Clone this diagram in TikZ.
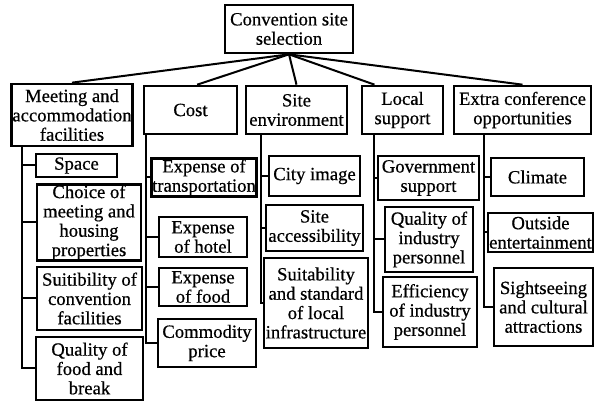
\documentclass[tikz,border=0pt]{standalone}
\usepackage{fontspec}
\setmainfont[FakeBold=0.6]{Liberation Serif}
\usepackage{tikz}

\begin{document}
\begin{tikzpicture}[x=0.75pt, y=-0.75pt,
    box/.style={draw, line width=2pt, align=center, inner sep=0.5pt,
        font=\fontsize{14}{14.5}\selectfont},
    boxsize/.style 2 args={minimum width=#1*0.75pt, minimum height=#2*0.75pt},
    link/.style={line width=1.5pt}]
    \useasboundingbox (0, 0) rectangle (596, 402);

    % top and first level
    \node[box, boxsize={128}{48}] at (289, 29) (root) {Convention site\\selection};
    \node[box, boxsize={116}{62}] at (72, 115) (meet) {Meeting and\\accommodation\\facilities};
    \node[box, boxsize={93}{48}] at (190.5, 110) (cost) {Cost};
    \node[box, boxsize={101}{48}] at (296.5, 110) (site) {Site\\environment};
    \node[box, boxsize={81}{48}] at (402.5, 110) (local) {Local\\support};
    \node[box, boxsize={137}{48}] at (522.5, 110) (extra) {Extra conference\\opportunities};
    \draw[link] (root.south) -- (meet.north);
    \draw[link] (root.south) -- ([xshift=5pt]cost.north);
    \draw[link] (root.south) -- (site.north);
    \draw[link] (root.south) -- ([xshift=-21pt]local.north);
    \draw[link] (root.south) -- (extra.north);

    % meeting and accommodation
    \node[box, boxsize={81}{23}] at (76.5, 165.5) (space) {Space};
    \node[box, boxsize={104}{75}] at (89, 222.5) (choice) {Choice of\\meeting and\\housing\\properties};
    \node[box, boxsize={105}{63}] at (89.5, 298.5) (suit) {Suitibility of\\convention\\facilities};
    \node[box, boxsize={107}{63}] at (89.5, 368.5) (qual) {Quality of\\food and\\break};
    \coordinate (meettop) at ([xshift=9pt]meet.south west);
    \draw[link] (meettop) |- (qual.west);
    \foreach \n in {space, choice, suit}
        \draw[link] (\n.west) -- (\n.west -| meettop);

    % cost
    \node[box, boxsize={104}{37}] at (204, 177.5) (trans) {Expense of\\transportation};
    \node[box, boxsize={88}{40}] at (203, 237) (hotel) {Expense\\of hotel};
    \node[box, boxsize={88}{38}] at (203, 287) (food) {Expense\\of food};
    \node[box, boxsize={98}{48}] at (207, 343) (comm) {Commodity\\price};
    \coordinate (costtop) at ([xshift=2.25pt]cost.south west);
    \draw[link] (costtop) |- (comm.west);
    \foreach \n in {trans, hotel, food}
        \draw[link] (\n.west) -- (\n.west -| costtop);

    % site environment
    \node[box, boxsize={91}{40}] at (314.5, 176) (city) {City image};
    \node[box, boxsize={97}{46}] at (314.5, 228) (access) {Site\\accessibility};
    \node[box, boxsize={104}{90}] at (316, 303) (infra) {Suitability\\and standard\\of local\\infrastructure};
    \coordinate (sitetop) at ([xshift=12pt]site.south west);
    \draw[link] (sitetop) |- (infra.west);
    \foreach \n in {city, access}
        \draw[link] (\n.west) -- (\n.west -| sitetop);

    % local support
    \node[box, boxsize={101}{44}] at (428.5, 178) (gov) {Government\\support};
    \node[box, boxsize={88}{65}] at (429, 239.5) (qind) {Quality of\\industry\\personnel};
    \node[box, boxsize={94}{70}] at (430, 312) (eind) {Efficiency\\of industry\\personnel};
    \coordinate (localtop) at ([xshift=9.75pt]local.south west);
    \draw[link] (localtop) |- (eind.west);
    \foreach \n in {gov, qind}
        \draw[link] (\n.west) -- (\n.west -| localtop);

    % extra conference opportunities
    \node[box, boxsize={93}{38}] at (537.5, 177) (clim) {Climate};
    \node[box, boxsize={105}{39}] at (540.5, 232.5) (outs) {Outside\\entertainment};
    \node[box, boxsize={99}{78}] at (543.5, 307) (sight) {Sightseeing\\and cultural\\attractions};
    \coordinate (extratop) at ([xshift=23.25pt]extra.south west);
    \draw[link] (extratop) |- (sight.west);
    \foreach \n in {clim, outs}
        \draw[link] (\n.west) -- (\n.west -| extratop);
\end{tikzpicture}
\end{document}
